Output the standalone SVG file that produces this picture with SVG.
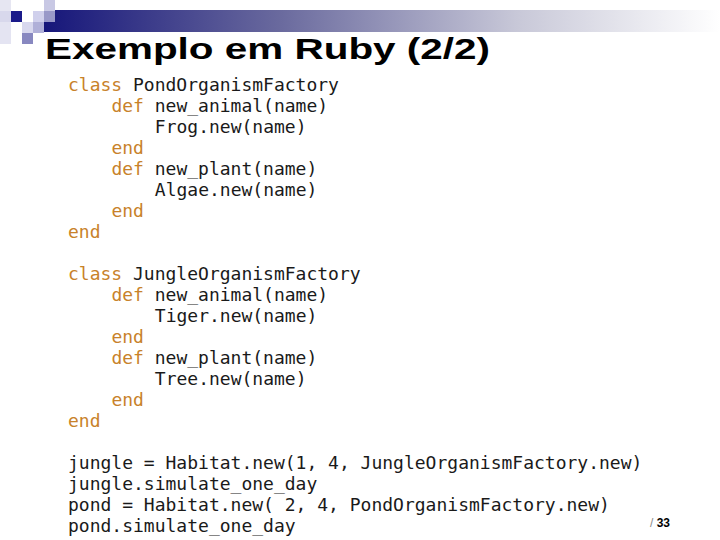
<svg xmlns="http://www.w3.org/2000/svg" width="720" height="540" viewBox="0 0 720 540">
<defs>
<linearGradient id="bar" x1="0" y1="0" x2="1" y2="0">
<stop offset="0" stop-color="#16167a"/>
<stop offset="0.35" stop-color="#6a6a9e"/>
<stop offset="0.7" stop-color="#c8c8d8"/>
<stop offset="1" stop-color="#ffffff"/>
</linearGradient>
<style>
.code{font-family:"DejaVu Sans Mono","Liberation Mono",monospace;font-size:18px;fill:#1a1a1a}
.kw{fill:#c8822a}
.title{font-family:"Liberation Sans",Arial,sans-serif;font-weight:bold;font-size:30px;fill:#000}
.pg{font-family:"Liberation Sans",Arial,sans-serif;font-weight:bold;font-size:12px;fill:#000}
</style>
</defs>
<rect width="720" height="540" fill="#fff"/>
<g id="decoration">
<rect x="44" y="10" width="676" height="22" fill="url(#bar)"/>
<rect x="0" y="0" width="11" height="11" fill="#e6e6f2"/>
<rect x="0" y="11" width="11" height="11" fill="#d8d8ec"/>
<rect x="0" y="22" width="11" height="22" fill="#e4e4f2"/>
<rect x="11" y="11" width="11" height="11" fill="#1a1a8a"/>
<rect x="44" y="0" width="11" height="11" fill="#c8c8e4"/>
<rect x="33" y="11" width="11" height="11" fill="#d0d0ec"/>
<rect x="44" y="11" width="11" height="11" fill="#9898c8"/>
<rect x="22" y="22" width="11" height="11" fill="#d8d8ee"/>
<rect x="33" y="22" width="11" height="11" fill="#b0b0d8"/>
<rect x="22" y="33" width="11" height="11" fill="#8888c0"/>
</g>
<g id="title">
<text class="title" x="45" y="59" textLength="445" lengthAdjust="spacingAndGlyphs">Exemplo em Ruby (2/2)</text>
</g>
<g id="code">
<text class="code" x="68" y="91"><tspan class="kw">class</tspan> PondOrganismFactory</text>
<text class="code" x="111.4" y="112"><tspan class="kw">def</tspan> new_animal(name)</text>
<text class="code" x="154.8" y="133">Frog.new(name)</text>
<text class="code kw" x="111.4" y="154">end</text>
<text class="code" x="111.4" y="175"><tspan class="kw">def</tspan> new_plant(name)</text>
<text class="code" x="154.8" y="196">Algae.new(name)</text>
<text class="code kw" x="111.4" y="217">end</text>
<text class="code kw" x="68" y="238">end</text>
<text class="code" x="68" y="280"><tspan class="kw">class</tspan> JungleOrganismFactory</text>
<text class="code" x="111.4" y="301"><tspan class="kw">def</tspan> new_animal(name)</text>
<text class="code" x="154.8" y="322">Tiger.new(name)</text>
<text class="code kw" x="111.4" y="343">end</text>
<text class="code" x="111.4" y="364"><tspan class="kw">def</tspan> new_plant(name)</text>
<text class="code" x="154.8" y="385">Tree.new(name)</text>
<text class="code kw" x="111.4" y="406">end</text>
<text class="code kw" x="68" y="427">end</text>
<text class="code" x="68" y="469">jungle = Habitat.new(1, 4, JungleOrganismFactory.new)</text>
<text class="code" x="68" y="490">jungle.simulate_one_day</text>
<text class="code" x="68" y="511">pond = Habitat.new( 2, 4, PondOrganismFactory.new)</text>
<text class="code" x="68" y="532">pond.simulate_one_day</text>
</g>
<g id="page">
<text class="pg" x="650" y="527"><tspan fill="#888" font-weight="normal">/</tspan> 33</text>
</g>
</svg>
